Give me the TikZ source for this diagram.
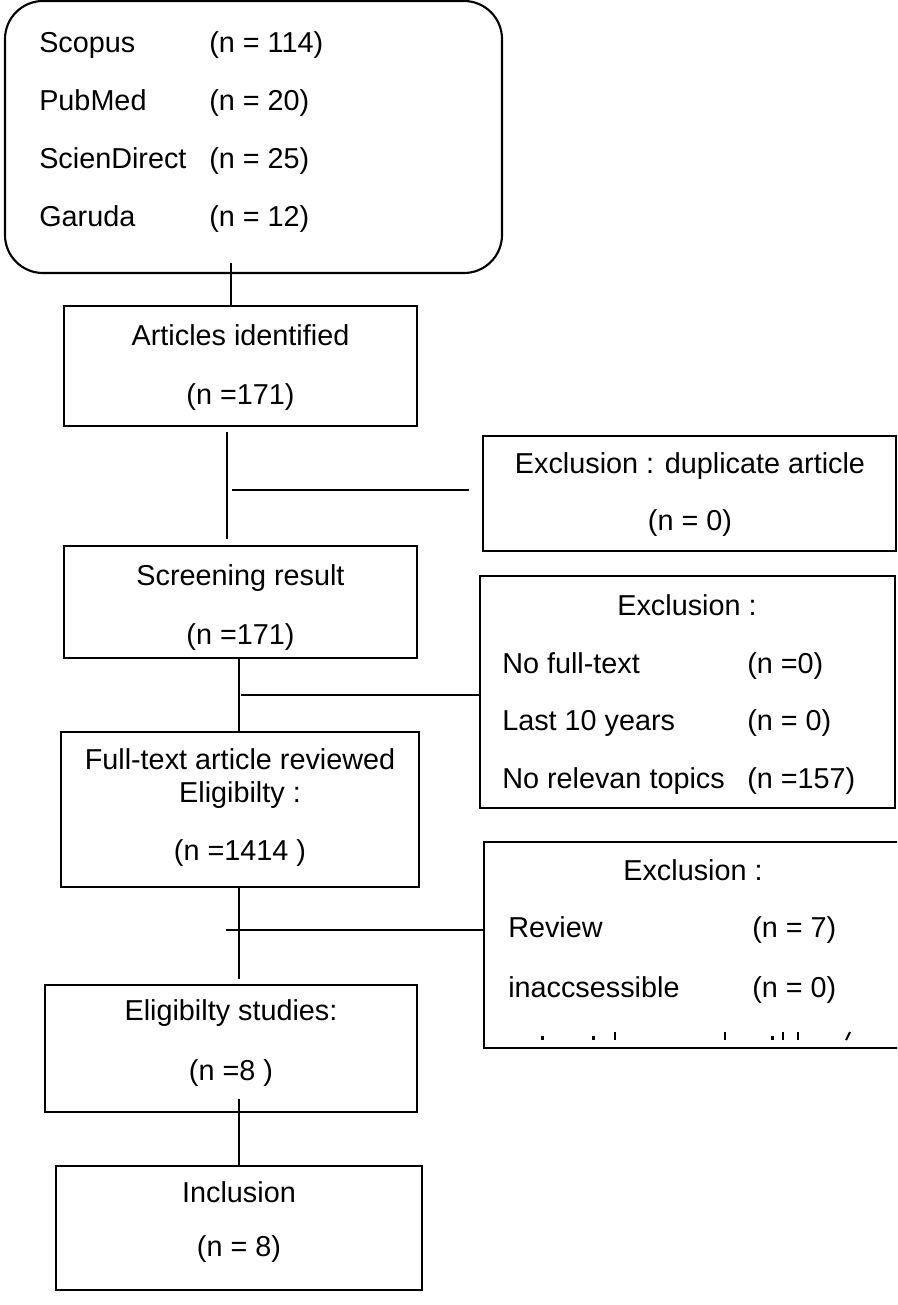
\documentclass[tikz,border=0pt]{standalone}
\usepackage{fontspec}
\setmainfont{Liberation Sans}
\usetikzlibrary{fit,positioning}

\tikzset{
  box/.style={draw, line width=1.6pt, inner sep=0pt},
  txt/.style={inner sep=0pt, anchor=base, font=\fontsize{21.6}{26}\selectfont},
  txtl/.style={txt, anchor=base west},
  link/.style={line width=1.6pt},
}

\begin{document}
\begin{tikzpicture}[x=0.75pt,y=-0.75pt]
	\useasboundingbox (0,0) rectangle (897,1305);
	\clip (0,0) rectangle (897,1305);

	% databases
	\node[box, rounded corners=28.5pt, fit={(5,1) (502,273)}] (src) {};
	\foreach \db/\num [count=\i] in {Scopus/114, PubMed/20, ScienDirect/25, Garuda/12} {
		\node[txtl] (srcA\i) at (39,{53+58*(\i-1)}) {\db};
		\node[txtl] (srcB\i) at (209,{53+58*(\i-1)}) {(n = \num)};
	}

	% main column
	\node[box, fit={(64,306) (417,426)}] (art) {};
	\node[txt] (artA) at (240.5,345) {Articles identified};
	\node[txt] (artB) at (240.5,404) {(n =171)};

	\node[box, fit={(64,546) (417,658)}] (scr) {};
	\node[txt] (scrA) at (240.5,585) {Screening result};
	\node[txt] (scrB) at (240.5,644) {(n =171)};

	\node[box, fit={(61,732) (419,887)}] (full) {};
	\node[txt] (fullA) at (240,769) {Full-text article reviewed};
	\node[txt] (fullB) at (240,802) {Eligibilty :};
	\node[txt] (fullC) at (240,860) {(n =1414 )};

	\node[box, fit={(45,985) (417,1112)}] (elig) {};
	\node[txt] (eligA) at (231,1020) {Eligibilty studies:};
	\node[txt] (eligB) at (231,1080) {(n =8 )};

	\node[box, fit={(56,1166) (422,1290)}] (incl) {};
	\node[txt] (inclA) at (239,1202) {Inclusion};
	\node[txt] (inclB) at (239,1256) {(n = 8)};

	% exclusions
	\node[box, fit={(483,436) (896,551)}] (dup) {};
	\node[txt] (dupA) at (690,473) {Exclusion : duplicate article};
	\node[txt] (dupB) at (690,530) {(n = 0)};

	\node[box, fit={(480,576) (895,808)}] (exa) {};
	\node[txt] (exaT) at (687,615) {Exclusion :};
	\foreach \why/\num [count=\i] in {No full-text/{(n =0)}, Last 10 years/{(n = 0)}, No relevan topics/{(n =157)}} {
		\node[txtl] (exaA\i) at (502,{673+57.5*(\i-1)}) {\why};
		\node[txtl] (exaB\i) at (747,{673+57.5*(\i-1)}) {\num};
	}

	\node[box, fit={(484,842) (902,1048)}] (exb) {};
	\node[txt] (exbT) at (693,880) {Exclusion :};
	\node[txtl] (exbA1) at (508,937) {Review};
	\node[txtl] (exbB1) at (752,937) {(n = 7)};
	\node[txtl] (exbA2) at (508,997) {inaccsessible};
	\node[txtl] (exbB2) at (752,997) {(n = 0)};
	% cut-off tops of a third line
	\foreach \xd in {542,593,772} \fill (\xd-1.5,1036) rectangle (\xd+1.5,1040);
	\foreach \xt in {615,725,783,798} \fill (\xt-1.3,1032) rectangle (\xt+1.3,1040);
	\draw[line width=1.5pt] (846,1040) -- (850,1032);

	% connectors
	\coordinate (j1) at (231,263);
	\draw[link] (j1) -- (j1 |- art.north);
	\coordinate (j2) at (227,0);
	\draw[link, shorten <=3.75pt, shorten >=4.5pt] (art.south -| j2) -- (scr.north -| j2);
	\coordinate (h1) at (232,490);
	\draw[link, shorten >=10pt] (h1) -- (h1 -| dup.west);
	\coordinate (j4) at (239,0);
	\draw[link] (scr.south -| j4) -- (full.north -| j4);
	\coordinate (h2) at (241,695);
	\draw[link] (h2) -- (h2 -| exa.west);
	\draw[link, shorten >=4pt] (full.south -| j4) -- (elig.north -| j4);
	\coordinate (h3) at (226,930);
	\draw[link] (h3) -- (h3 -| exb.west);
	\coordinate (j8) at (239,1099);
	\draw[link] (j8) -- (j8 |- incl.north);
\end{tikzpicture}
\end{document}
